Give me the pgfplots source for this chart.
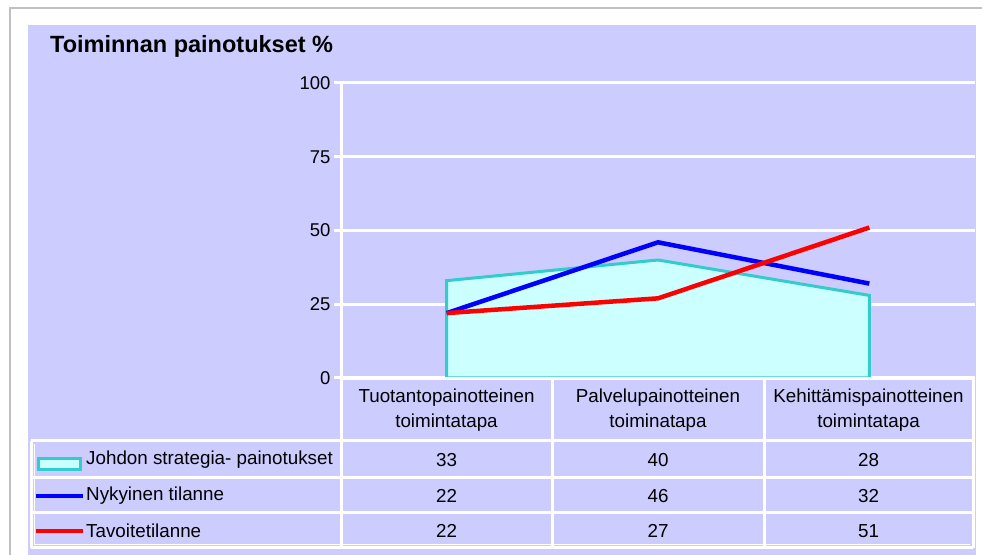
\documentclass[border=0pt]{standalone}
\usepackage{pgfplots}
\pgfplotsset{compat=1.18}
\usepackage{fontspec}
\setmainfont{Liberation Sans}
\definecolor{lav}{HTML}{CCCCFF}
\definecolor{areafill}{HTML}{CCFFFF}
\definecolor{areaedge}{HTML}{33CCCC}
\definecolor{bord}{HTML}{C0C0C0}
\begin{document}
\begin{tikzpicture}[x=1bp,y=1bp]
\fill[white] (0,0) rectangle (982,555);
\useasboundingbox (0,0) rectangle (982,555);
\draw[bord, line width=2bp] (10,0) -- (10,547) -- (982,547);
\fill[lav] (28,0) rectangle (976,530);
\node[anchor=base west, inner sep=0pt, font=\bfseries\fontsize{23.5bp}{27bp}\selectfont] at (50,502) {Toiminnan painotukset \%};
\begin{axis}[
  at={(341bp,177bp)}, anchor=south west,
  width=634bp, height=295bp, scale only axis,
  xmin=-0.5, xmax=2.5, ymin=0, ymax=100,
  xtick=\empty, ytick={0,25,50,75,100},
  axis line style={draw=none},
  ymajorgrids, major grid style={white, line width=3bp},
  tickpos=left, tick align=outside, major tick length=7bp,
  tick style={white, line width=3bp},
  /pgf/number format/assume math mode=true,
  yticklabel style={font=\fontsize{18.5bp}{20bp}\selectfont},
  clip=false,
]
\addplot[fill=areafill, draw=areaedge, line width=3bp] coordinates {(0,33) (1,40) (2,28)} \closedcycle;
\addplot[blue, line width=4.5bp] coordinates {(0,22) (1,46) (2,32)};
\addplot[red, line width=4.5bp] coordinates {(0,22) (1,27) (2,51)};
\end{axis}
% data table
\begin{scope}[white, line width=3bp]
\draw (341,176) -- (973,176);
\draw (31,114) -- (973,114);
\draw (31,77) -- (973,77);
\draw (31,42) -- (973,42);
\draw (31,7) -- (973,7);
\draw (31,114) -- (31,7);
\draw (341,472) -- (341,7);
\draw (552,176) -- (552,7);
\draw (764,176) -- (764,7);
\draw (973,176) -- (973,7);
\end{scope}
\draw[white, line width=1bp] (34.5,111) -- (34.5,10.5) -- (970,10.5);
\begin{scope}[every node/.style={font=\fontsize{18.8bp}{25bp}\selectfont, inner sep=0pt}]
\node[align=center] at (446.5,145) {Tuotantopainotteinen\\toimintatapa};
\node[align=center] at (658,145) {Palvelupainotteinen\\toiminatapa};
\node[align=center] at (868.5,145) {Kehittämispainotteinen\\toimintatapa};
\node[anchor=west] at (86,95) {Johdon strategia- painotukset};
\node[anchor=west] at (86,59) {Nykyinen tilanne};
\node[anchor=west] at (86,24) {Tavoitetilanne};
\node at (446.5,95) {33};
\node at (658,95) {40};
\node at (868.5,95) {28};
\node at (446.5,59) {22};
\node at (658,59) {46};
\node at (868.5,59) {32};
\node at (446.5,24) {22};
\node at (658,24) {27};
\node at (868.5,24) {51};
\end{scope}
\draw[areaedge, fill=areafill, line width=3bp] (38.5,85.5) rectangle (80.5,96.5);
\draw[blue, line width=4.5bp] (36,59) -- (83,59);
\draw[red, line width=4.5bp] (36,24) -- (83,24);
\end{tikzpicture}
\end{document}
